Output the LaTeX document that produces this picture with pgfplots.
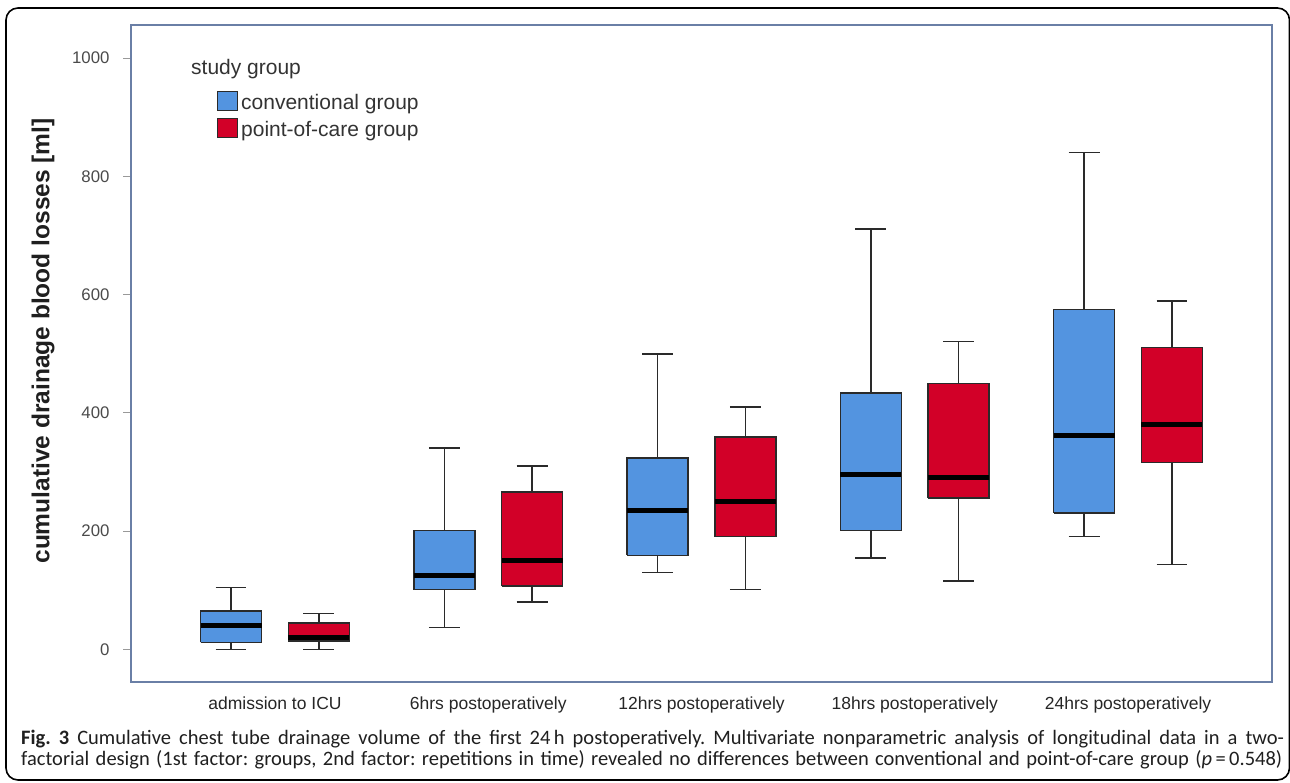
\documentclass[border=0pt]{standalone}
\usepackage{fontspec}
\setmainfont{Liberation Sans}
\newfontfamily\capfont{Carlito}
\usepackage{pgfplots}
\pgfplotsset{compat=1.18}

\definecolor{convblue}{HTML}{5394E0}
\definecolor{pocred}{HTML}{D20028}
\definecolor{framecol}{HTML}{6A7FA6}
\definecolor{ticktext}{HTML}{4A4A4A}
\definecolor{boxline}{HTML}{2A2A2A}

% one box: position, lower whisker, Q1, median, Q3, upper whisker, fill colour
\newcommand{\drawbox}[7]{%
  \pgfmathsetmacro{\bxl}{#1-0.143}\pgfmathsetmacro{\bxr}{#1+0.143}%
  \pgfmathsetmacro{\cxl}{#1-0.0725}\pgfmathsetmacro{\cxr}{#1+0.0725}%
  \addplot[draw=boxline, line width=1.5pt] coordinates {(#1,#2) (#1,#3)};
  \addplot[draw=boxline, line width=1.5pt] coordinates {(#1,#5) (#1,#6)};
  \addplot[draw=boxline, line width=1.5pt] coordinates {(\cxl,#2) (\cxr,#2)};
  \addplot[draw=boxline, line width=1.5pt] coordinates {(\cxl,#6) (\cxr,#6)};
  \addplot[fill=#7, draw=boxline, line width=1.5pt, line cap=square]
    coordinates {(\bxl,#3) (\bxr,#3) (\bxr,#5) (\bxl,#5) (\bxl,#3)};
  \addplot[draw=black, line width=5pt] coordinates {(\bxl,#4) (\bxr,#4)};
}

\begin{document}
\frenchspacing
\begin{tikzpicture}
\useasboundingbox (0pt,0pt) rectangle (1290pt,782pt);
% outer panel
\draw[line width=1.6pt, rounded corners=12pt] (6pt,2pt) rectangle (1289.5pt,774pt);

\begin{axis}[
  at={(131pt,100pt)}, anchor=south west,
  scale only axis, width=1141pt, height=657pt,
  xmin=-0.675, xmax=4.675, ymin=-55, ymax=1056,
  axis line style={draw=framecol, line width=1.8pt},
  xtick={0,1,2,3,4},
  xticklabels={admission to ICU, 6hrs postoperatively, 12hrs postoperatively,
               18hrs postoperatively, 24hrs postoperatively},
  x tick style={draw=none},
  xticklabel style={font=\fontsize{17.5}{20}\selectfont, text=black!85, yshift=-3pt},
  ytick={0,200,400,600,800,1000},
  ytick pos=left, tick align=outside,
  major tick length=8pt,
  y tick style={draw=gray!80, line width=1pt},
  yticklabel style={font=\fontsize{16.8}{20}\selectfont, text=ticktext, xshift=-10pt},
  /pgf/number format/assume math mode=true,
  /pgf/number format/1000 sep={},
  clip=false,
]
% admission to ICU
\drawbox{-0.206}{0}{12}{41}{65}{105}{convblue}
\drawbox{0.206}{0}{14}{21}{45}{61}{pocred}
% 6hrs postoperatively
\drawbox{0.794}{37}{101}{125}{201}{341}{convblue}
\drawbox{1.206}{80}{107}{151}{266}{310}{pocred}
% 12hrs postoperatively
\drawbox{1.794}{130}{159}{235}{324}{500}{convblue}
\drawbox{2.206}{101}{191}{250}{359}{410}{pocred}
% 18hrs postoperatively
\drawbox{2.794}{155}{201}{296}{434}{711}{convblue}
\drawbox{3.206}{116}{256}{290}{450}{521}{pocred}
% 24hrs postoperatively
\drawbox{3.794}{191}{231}{361}{575}{840}{convblue}
\drawbox{4.206}{144}{316}{381}{511}{589}{pocred}
\end{axis}

% y label
\node[rotate=90, font=\bfseries\fontsize{24.5}{28}\selectfont, text=black!88]
  at (43pt,441pt) {cumulative drainage blood losses [ml]};

% legend (drawn by hand, SPSS style)
\node[anchor=west, inner sep=0pt, font=\fontsize{21}{24}\selectfont, text=black!80]
  at (191pt,713pt) {study group};
\draw[fill=convblue, draw=boxline, line width=1pt] (217pt,671pt) rectangle (237pt,690pt);
\draw[fill=pocred, draw=boxline, line width=1pt] (217pt,644pt) rectangle (237pt,663pt);
\node[anchor=base west, inner sep=0pt, font=\fontsize{21}{24}\selectfont, text=black!80]
  at (241pt,672pt) {conventional group};
\node[anchor=base west, inner sep=0pt, font=\fontsize{21}{24}\selectfont, text=black!80]
  at (241pt,645pt) {point-of-care group};

% caption
\node[anchor=base west, inner sep=0pt, font=\capfont\fontsize{20.5}{22}\selectfont, text=black!88]
  at (21pt,38pt) {\hbox to 1263pt{\textbf{Fig. 3} Cumulative chest tube drainage volume of the first 24\,h postoperatively. Multivariate nonparametric analysis of longitudinal data in a two-}};
\node[anchor=base west, inner sep=0pt, font=\capfont\fontsize{20.5}{22}\selectfont, text=black!88]
  at (21pt,17pt) {\hbox to 1261pt{factorial design (1st factor: groups, 2nd factor: repetitions in time) revealed no differences between conventional and point-of-care group (\textit{p}\,=\,0.548)}};
\end{tikzpicture}
\end{document}
